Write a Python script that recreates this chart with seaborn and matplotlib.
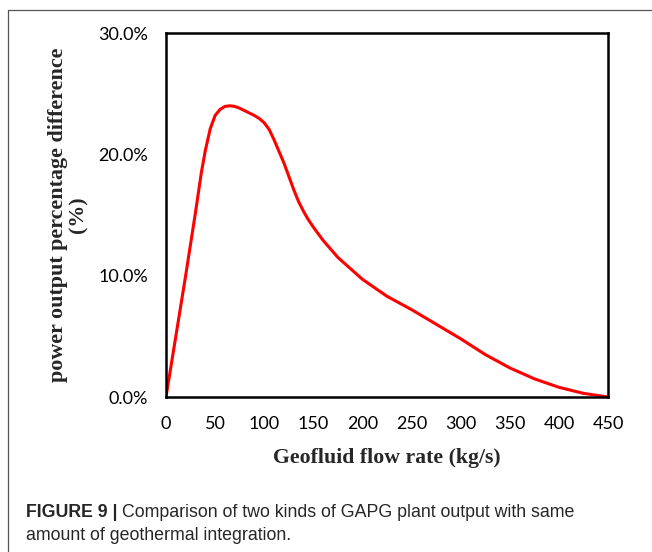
# Power output percentage difference vs geofluid flow rate (Figure 9)
import pandas as pd
import seaborn as sns
import matplotlib.pyplot as plt
from matplotlib.lines import Line2D
from matplotlib.ticker import PercentFormatter

# Values
flow_rate = [0, 10, 20, 30, 36, 40, 45, 50, 55, 60, 65, 70, 75, 80, 85, 90,
             95, 100, 105, 110, 115, 120, 125, 130, 135, 140, 145, 150, 160,
             175, 200, 225, 250, 275, 300, 325, 350, 375, 400, 425, 450]
pct_diff = [0.0, 5.0, 10.0, 15.2, 18.5, 20.3, 22.1, 23.2, 23.7, 23.95, 24.0,
            23.95, 23.8, 23.6, 23.4, 23.2, 22.95, 22.6, 22.05, 21.2, 20.25,
            19.3, 18.2, 17.1, 16.1, 15.3, 14.6, 14.0, 12.9, 11.5, 9.7, 8.3,
            7.2, 6.0, 4.8, 3.5, 2.4, 1.5, 0.8, 0.3, 0.0]
x_ticks = [0, 50, 100, 150, 200, 250, 300, 350, 400, 450]
y_ticks = [0, 10, 20, 30]

df = pd.DataFrame({"flow": flow_rate, "diff": pct_diff})

sns.set_style("white")
plt.rcParams['font.family'] = ['Lato', 'DejaVu Sans']

fig = plt.figure(figsize=(6.52, 5.52), dpi=100)
ax = fig.add_axes([166 / 652, 1 - 397 / 552, 442 / 652, 364 / 552])

sns.lineplot(data=df, x="flow", y="diff", color="#ff0000", linewidth=2.2, ax=ax)

ax.set_xlim(0, 450)
ax.set_ylim(0, 30)
ax.set_xticks(x_ticks)
ax.set_yticks(y_ticks)
ax.yaxis.set_major_formatter(PercentFormatter(decimals=1))
ax.tick_params(direction="in", length=5, width=1.5, labelsize=13,
               colors="black")
ax.tick_params(axis="x", pad=14)
ax.tick_params(axis="y", pad=13)
for s in ax.spines.values():
    s.set_color("black")
    s.set_linewidth(1.8)

serif = ['Liberation Serif', 'DejaVu Serif']
ax.set_xlabel("Geofluid flow rate (kg/s)", family=serif, fontsize=15.7,
              fontweight="bold")
ax.set_ylabel("power output percentage difference\n(%)", family=serif,
              fontsize=15.8, fontweight="bold", linespacing=1.0)
ax.xaxis.set_label_coords(0.5, -0.14)
ax.yaxis.set_label_coords(-0.176, 0.5)

# page frame lines around the figure
fig.add_artist(Line2D([8 / 652, 1], [1 - 10 / 552] * 2, color="#555555", lw=0.9))
fig.add_artist(Line2D([8 / 652] * 2, [0, 1 - 10 / 552], color="#555555", lw=0.9))

# caption
cap = ['Liberation Sans', 'DejaVu Sans']
t1 = fig.text(26 / 652, 1 - 517 / 552, "FIGURE 9 |", family=cap, fontsize=12.8,
              fontweight="bold", va="baseline")
fig.canvas.draw()
bb = t1.get_window_extent(fig.canvas.get_renderer())
fig.text((bb.x1 + 4) / 652, 1 - 517 / 552,
         "Comparison of two kinds of GAPG plant output with same",
         family=cap, fontsize=12.8, va="baseline")
fig.text(26 / 652, 1 - 540 / 552, "amount of geothermal integration.",
         family=cap, fontsize=12.8, va="baseline")

fig.savefig("out.png", dpi=100)
